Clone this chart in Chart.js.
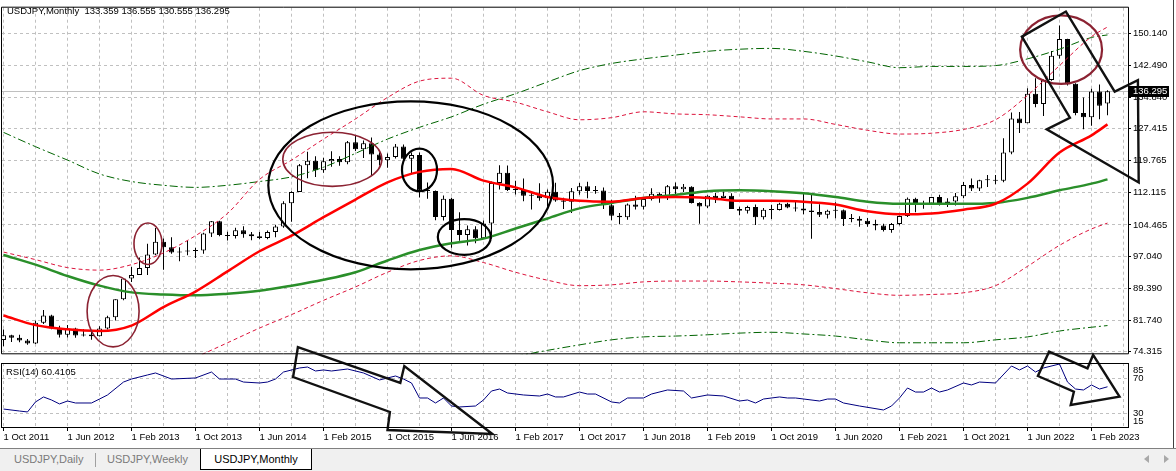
<!DOCTYPE html>
<html>
<head>
<meta charset="utf-8">
<script src="https://cdn.jsdelivr.net/npm/chart.js@4.4.0/dist/chart.umd.min.js"></script>
<style>
  html, body { margin:0; padding:0; background:#fff; }
  body { width:1176px; height:471px; position:relative; overflow:hidden; font-family:"Liberation Sans", Arial, sans-serif; }
  #mainCanvas { position:absolute; left:0; top:0; width:1176px; height:362px; }
  #rsiCanvas { position:absolute; left:0; top:340px; width:1176px; height:110px; }
  #winEdge { position:absolute; left:1173px; top:0; width:1px; height:448px; background:#404040; }
  #tabs { position:absolute; left:0; top:448px; width:1176px; height:23px; background:#f0f0f0; border-top:1px solid #808080; box-sizing:border-box; font-size:11px; }
  .tab { position:absolute; top:0; height:21px; line-height:20px; color:#7a7a7a; white-space:nowrap; }
  .tab.active { background:#fff; color:#000; border:1px solid #000; border-top:none; box-sizing:border-box; text-align:center; }
  .sep { position:absolute; top:4px; width:1px; height:14px; background:#a0a0a0; }
  .arr { position:absolute; top:6px; width:0; height:0; border-top:4px solid transparent; border-bottom:4px solid transparent; }
</style>
</head>
<body>
<canvas id="mainCanvas" width="1176" height="362"></canvas>
<canvas id="rsiCanvas" width="1176" height="110"></canvas>
<div id="winEdge"></div>
<div id="tabs">
  <div class="tab" style="left:14px">USDJPY,Daily</div>
  <div class="sep" style="left:95px"></div>
  <div class="tab" style="left:107px">USDJPY,Weekly</div>
  <div class="tab active" style="left:200px;width:112px">USDJPY,Monthly</div>
  <div class="arr" style="left:1144px;border-right:5px solid #a8a8a8"></div>
  <div class="arr" style="left:1164px;border-left:5px solid #a8a8a8"></div>
</div>
<script>
// ================= DATA (monthly USDJPY, Oct 2011 .. Apr 2023) =================
const symbolTitle = 'USDJPY,Monthly';
const opens = [
  77.05, 78.18, 77.62,
  76.92, 76.23, 81.19, 82.87, 79.82, 78.33, 79.79, 78.11, 78.36, 77.94, 79.77, 82.49,
  86.74, 91.69, 92.56, 94.21, 97.42, 100.47, 99.14, 97.87, 98.16, 98.28, 98.37, 102.44,
  105.31, 102.04, 101.80, 103.21, 102.23, 101.78, 101.32, 102.80, 104.07, 109.64, 112.32, 118.66,
  119.77, 117.48, 119.63, 120.13, 119.38, 124.13, 122.50, 123.93, 121.21, 119.86, 120.63, 123.11,
  120.21, 121.13, 112.67, 112.54, 106.33, 110.72, 103.26, 102.05, 103.43, 101.31, 104.80, 114.46,
  116.88, 112.78, 112.76, 111.38, 111.50, 110.82, 112.39, 110.27, 109.99, 112.51, 113.65, 112.53,
  112.67, 109.17, 106.67, 106.26, 109.34, 108.81, 110.66, 111.86, 111.03, 113.70, 112.93, 113.57,
  109.67, 108.86, 111.38, 110.85, 111.42, 108.28, 107.85, 108.74, 106.28, 108.07, 108.03, 109.49,
  108.61, 108.35, 107.89, 107.54, 106.88, 107.83, 107.93, 105.88, 105.92, 105.48, 104.66, 104.31,
  103.24, 104.68, 106.60, 110.72, 109.30, 109.58, 111.10, 109.71, 110.02, 111.28, 113.95, 113.16,
  115.08, 115.11, 114.99, 121.69, 129.81, 128.69, 135.72, 133.26, 138.95, 144.74, 148.71, 138.05,
  131.11, 130.09, 136.21, 133.359
];
const highs = [
  79.55, 78.29, 78.29,
  77.32, 81.67, 84.18, 83.05, 80.43, 80.63, 80.00, 79.65, 78.94, 80.36, 82.84, 86.79,
  91.80, 94.46, 96.71, 99.95, 103.74, 101.23, 101.54, 99.15, 100.62, 99.01, 102.57, 105.41,
  105.45, 102.84, 103.77, 104.13, 102.77, 102.80, 103.15, 104.49, 110.09, 112.49, 118.98, 121.86,
  120.82, 120.48, 122.03, 120.84, 124.45, 125.86, 124.58, 125.28, 121.74, 121.49, 123.76, 123.60,
  121.69, 121.69, 114.56, 112.67, 111.44, 110.92, 107.49, 104.32, 104.16, 105.53, 114.83, 118.66,
  118.61, 114.96, 115.51, 112.20, 114.37, 112.89, 114.49, 110.95, 113.26, 114.44, 114.72, 113.75,
  113.38, 110.48, 107.29, 109.57, 111.40, 110.90, 113.17, 112.16, 113.98, 114.55, 114.21, 113.70,
  109.89, 111.50, 112.14, 112.40, 112.02, 108.80, 109.03, 109.31, 108.47, 109.28, 109.73, 109.72,
  110.29, 112.23, 111.71, 109.38, 108.08, 109.85, 108.16, 107.05, 106.55, 106.11, 105.68, 104.75,
  104.94, 106.69, 110.97, 110.96, 110.20, 111.11, 111.66, 110.80, 112.08, 114.70, 115.52, 115.21,
  116.35, 116.34, 125.10, 131.26, 131.35, 137.00, 139.39, 139.08, 145.90, 151.94, 148.82, 138.18,
  134.78, 136.91, 137.91, 136.555
];
const lows = [
  75.56, 76.57, 76.55,
  75.94, 76.11, 80.87, 79.62, 77.65, 77.65, 77.61, 77.90, 77.12, 77.88, 79.56, 81.69,
  86.54, 90.86, 92.56, 92.56, 97.22, 93.79, 97.62, 95.81, 97.23, 96.56, 97.62, 101.60,
  101.77, 100.76, 101.20, 101.43, 100.82, 101.07, 101.07, 101.51, 103.77, 105.21, 112.30, 115.57,
  115.86, 116.87, 118.33, 118.53, 118.88, 122.04, 120.42, 116.16, 118.60, 118.06, 120.25, 119.97,
  116.50, 110.98, 110.67, 105.55, 105.53, 99.00, 100.68, 99.55, 100.09, 101.20, 101.19, 112.89,
  112.52, 111.69, 110.11, 108.13, 110.24, 108.82, 110.00, 108.27, 107.32, 111.65, 110.84, 111.88,
  108.28, 105.55, 104.62, 105.67, 108.11, 108.12, 110.27, 109.77, 110.38, 111.38, 112.30, 109.56,
  104.74, 108.50, 109.70, 110.81, 108.28, 106.78, 107.21, 104.45, 105.74, 105.88, 107.89, 108.43,
  107.65, 107.00, 101.18, 106.36, 105.99, 106.07, 104.19, 105.11, 104.00, 104.03, 103.18, 102.88,
  102.59, 104.41, 106.36, 107.48, 108.34, 109.19, 109.06, 108.72, 109.11, 110.82, 112.53, 112.53,
  113.47, 114.16, 114.65, 121.28, 126.36, 128.65, 132.51, 130.39, 138.80, 144.07, 137.67, 130.57,
  127.22, 128.08, 129.64, 130.555
];
const closes = [
  78.18, 77.62, 76.92,
  76.23, 81.19, 82.87, 79.82, 78.33, 79.79, 78.11, 78.36, 77.94, 79.77, 82.49, 86.74,
  91.69, 92.56, 94.21, 97.42, 100.47, 99.14, 97.87, 98.16, 98.28, 98.37, 102.44, 105.31,
  102.04, 101.80, 103.21, 102.23, 101.78, 101.32, 102.80, 104.07, 109.64, 112.32, 118.66, 119.77,
  117.48, 119.63, 120.13, 119.38, 124.13, 122.50, 123.93, 121.21, 119.86, 120.63, 123.11, 120.21,
  121.13, 112.67, 112.54, 106.33, 110.72, 103.26, 102.05, 103.43, 101.31, 104.80, 114.46, 116.88,
  112.78, 112.76, 111.38, 111.50, 110.82, 112.39, 110.27, 109.99, 112.51, 113.65, 112.53, 112.67,
  109.17, 106.67, 106.26, 109.34, 108.81, 110.66, 111.86, 111.03, 113.70, 112.93, 113.57, 109.67,
  108.86, 111.38, 110.85, 111.42, 108.28, 107.85, 108.74, 106.28, 108.07, 108.03, 109.49, 108.61,
  108.35, 107.89, 107.54, 106.88, 107.83, 107.93, 105.88, 105.92, 105.48, 104.66, 104.31, 103.24,
  104.68, 106.60, 110.72, 109.30, 109.58, 111.10, 109.71, 110.02, 111.28, 113.95, 113.16, 115.08,
  115.11, 114.99, 121.69, 129.81, 128.69, 135.72, 133.26, 138.95, 144.74, 148.71, 138.05, 131.11,
  130.09, 136.21, 132.84, 136.295
];

// indicator readings, taken at every 4th bar (plus the last bar)
const indicatorBars = [0,4,8,12,16,20,24,28,32,36,40,44,48,52,56,60,64,68,72,76,80,84,88,92,96,100,104,108,112,116,120,124,128,132,136,138];
const redMA = [82.9,80.6,79.6,79.2,80.5,84.9,88.6,93.4,98.2,101.9,106.3,110.5,114.6,117.1,117.8,115.0,113.4,111.1,110.2,110.0,110.9,111.1,110.9,110.2,110.2,110.0,109.3,107.7,107.0,107.2,108.1,109.5,114.3,121.7,125.8,128.4];
const greenMA = [97.3,95.0,92.3,90.0,88.4,87.9,87.7,88.1,88.8,90.0,91.4,93.2,96.0,98.5,100.1,101.2,103.6,106.0,108.4,109.7,110.9,111.6,112.5,112.7,112.5,112.0,111.1,110.0,109.5,109.5,109.5,109.7,110.9,112.7,114.3,115.3];
const upperRedBand = [98.0,96.2,94.3,93.7,95.0,97.8,101.9,107.2,115.3,119.9,124.9,129.7,134.8,138.7,139.4,135.3,133.7,131.4,129.5,130.0,131.4,130.9,130.7,130.2,129.7,129.7,128.4,127.0,126.1,126.3,127.2,129.5,135.3,142.4,149.3,151.6];
const lowerRedBand = [null,null,null,null,null,null,72.9,76.4,79.9,83.1,86.5,89.7,93.2,96.0,97.1,95.5,93.2,91.3,90.0,90.2,90.9,91.1,91.1,90.9,90.6,90.2,89.3,88.3,87.7,87.9,88.3,90.0,94.6,99.6,103.5,104.9];
const upperGreenBand = [126.5,123.1,119.9,116.6,114.8,113.9,113.4,113.9,114.8,115.9,118.2,121.5,124.9,127.7,130.2,133.2,135.7,138.5,141.2,142.9,144.0,144.9,145.8,146.3,146.5,145.8,144.7,143.3,141.9,142.2,142.2,142.4,144.0,146.3,149.1,149.7];
const lowerGreenBand = [null,null,null,null,null,null,null,null,null,null,null,null,null,null,null,72.0,73.2,74.6,75.9,77.1,77.8,78.0,78.3,78.7,78.9,78.5,78.0,77.1,76.4,76.4,76.4,77.1,77.8,79.2,80.1,80.5];

const rsiBars = [0,2,3,4,5,6,7,8,9,11,12,13,15,16,18,19,21,24,26,27,29,30,32,33,34,35,37,38,39,40,41,43,45,47,49,50,51,52,53,54,55,56,57,59,60,61,62,63,65,67,68,69,70,72,73,74,76,77,78,80,81,83,85,86,88,90,92,93,94,95,97,98,99,102,103,104,105,107,110,111,112,113,114,115,116,117,118,120,121,122,124,126,127,128,129,130,132,133,134,135,136,137,138];
const rsiValues = [34.6,32.3,31.2,42.8,48.6,45.1,40.5,43.9,41.6,41.6,46.2,50.9,65.9,69.4,74.1,76.4,69.4,70.6,77.5,69.4,69.4,65.9,64.8,65.9,69.4,77.5,82.2,83.3,78.7,79.9,78.7,81.0,76.4,68.3,72.9,69.4,64.8,47.4,47.4,41.6,47.4,38.1,37.0,38.1,45.1,55.5,57.8,53.2,50.9,49.7,52.0,48.6,48.6,54.3,52.0,52.0,42.8,41.6,47.4,47.4,52.0,56.7,55.5,47.4,50.9,49.7,43.9,45.1,41.6,46.2,48.6,47.4,47.4,43.9,46.2,46.2,41.6,38.1,33.5,38.1,47.4,59.0,54.3,54.3,59.0,54.3,56.7,64.8,62.5,65.9,64.8,84.5,79.9,84.5,77.5,82.2,86.8,65.9,57.8,56.7,62.5,57.8,60.41];
const rsiTitle = 'RSI(14) 60.4105';

const priceTicks = [150.140, 142.490, 134.840, 127.415, 119.765, 112.115, 104.465, 97.040, 89.390, 81.740, 74.315];
const rsiLevels = [85, 70, 30, 15];
const rsiGridLevels = [70, 30];
const dateTickLabels = ['1 Oct 2011','1 Jun 2012','1 Feb 2013','1 Oct 2013','1 Jun 2014','1 Feb 2015','1 Oct 2015','1 Jun 2016','1 Feb 2017','1 Oct 2017','1 Jun 2018','1 Feb 2019','1 Oct 2019','1 Jun 2020','1 Feb 2021','1 Oct 2021','1 Jun 2022','1 Feb 2023'];

// hand-drawn annotations (bar index / price space)
const annotationEllipses = [
  {bar:13.7, price:83.93, rBars:3.25, rPrice:8.5, color:'#8b2232', width:1.6},
  {bar:18.06, price:99.98, rBars:1.75, rPrice:4.94, color:'#8b2232', width:1.6},
  {bar:41.1, price:120.09, rBars:6.19, rPrice:6.44, color:'#8b2232', width:1.6},
  {bar:50.9, price:113.89, rBars:17.8, rPrice:20.0, color:'#000000', width:2.2},
  {bar:52.0, price:117.56, rBars:2.19, rPrice:5.06, color:'#000000', width:2.2},
  {bar:57.6, price:101.59, rBars:3.31, rPrice:4.25, color:'#000000', width:2.2},
  {bar:132.2, price:146.19, rBars:5.12, rPrice:8.16, color:'#8b2232', width:2.2}
];
const priceArrow = [[127.3,149.29],[132.8,155.27],[138.9,136.19],[141.8,138.94],[141.9,114.58],[130.4,127.22],[133.3,129.98]];
const rsiArrows = [
  [[36.8,106.5],[49.6,64.8],[50.1,84.5],[61.1,5.65],[48.0,10.3],[48.3,31.2],[36.2,71.7]],
  [[130.7,101.1],[135.5,81.8],[136.2,97.3],[139.5,48.9],[133.4,39.3],[133.8,54.7],[129.3,72.9]]
];

// ================= CHART SETUP =================
const N = opens.length;
const FONT = '"Liberation Sans", Arial, sans-serif';
const GRID = '#c0c0c0';
Chart.defaults.font.family = FONT;
Chart.defaults.font.size = 9.5;
Chart.defaults.color = '#000';
Chart.defaults.animation = false;

const X_MIN = -0.1875, X_MAX = 140.5625;
const PRICE_MIN = 73.656, PRICE_MAX = 156.186;
const RSI_MIN = 13.77, RSI_MAX = 87.97;
const gridBars = [];
for (let v = 0; v <= X_MAX; v += 4) gridBars.push(v);

const pts = arr => indicatorBars.map((b, k) => ({x: b, y: arr[k]}));
const candleWicks = opens.map((o, i) => ({x: i, y: [lows[i], highs[i]]}));
const candleBodies = opens.map((o, i) => ({x: i, y: [o, closes[i]]}));
const bodyFill = opens.map((o, i) => closes[i] >= o ? '#ffffff' : '#000000');

function drawPoly(ctx, poly, xs, ys) {
  ctx.beginPath();
  poly.forEach(([b, v], k) => {
    const px = xs.getPixelForValue(b), py = ys.getPixelForValue(v);
    if (k === 0) ctx.moveTo(px, py); else ctx.lineTo(px, py);
  });
  ctx.closePath();
  ctx.stroke();
}

const mainDecor = {
  id: 'mainDecor',
  beforeDatasetsDraw(chart) {
    const {ctx, chartArea: a, scales: {y}} = chart;
    const py = Math.round(y.getPixelForValue(closes[N - 1])) + 0.5;
    ctx.save();
    ctx.strokeStyle = '#c0c0c0'; ctx.lineWidth = 1;
    ctx.beginPath(); ctx.moveTo(a.left, py); ctx.lineTo(a.right, py); ctx.stroke();
    ctx.restore();
  },
  afterDatasetsDraw(chart) {
    const {ctx, scales: {x, y}} = chart;
    ctx.save();
    for (const e of annotationEllipses) {
      const cx = x.getPixelForValue(e.bar), cy = y.getPixelForValue(e.price);
      const rx = Math.abs(x.getPixelForValue(e.bar + e.rBars) - cx);
      const ry = Math.abs(y.getPixelForValue(e.price + e.rPrice) - cy);
      ctx.beginPath(); ctx.ellipse(cx, cy, rx, ry, 0, 0, Math.PI * 2);
      ctx.strokeStyle = e.color; ctx.lineWidth = e.width; ctx.stroke();
    }
    ctx.strokeStyle = '#111'; ctx.lineWidth = 2.4; ctx.lineJoin = 'miter';
    drawPoly(ctx, priceArrow, x, y);
    ctx.restore();
  },
  afterDraw(chart) {
    const {ctx, chartArea: a, scales: {y}} = chart;
    ctx.save();
    ctx.strokeStyle = '#000'; ctx.lineWidth = 1;
    ctx.beginPath();
    ctx.moveTo(a.left - 0.5, a.top - 0.5); ctx.lineTo(a.right + 0.5, a.top - 0.5);
    ctx.moveTo(a.left - 0.5, a.top - 0.5); ctx.lineTo(a.left - 0.5, a.bottom - 0.5);
    ctx.moveTo(a.right + 0.5, a.top - 0.5); ctx.lineTo(a.right + 0.5, a.bottom - 0.5);
    ctx.moveTo(a.left - 0.5, a.bottom - 0.5); ctx.lineTo(a.right + 0.5, a.bottom - 0.5);
    ctx.stroke();
    // title
    ctx.fillStyle = '#000';
    ctx.font = '9.5px ' + FONT;
    ctx.textBaseline = 'alphabetic'; ctx.textAlign = 'left';
    const L = N - 1;
    const ohlc = [opens[L], highs[L], lows[L], closes[L]].map(v => v.toFixed(3)).join(' ');
    ctx.fillText(symbolTitle + '  ' + ohlc, 7, 14);
    // current price box
    const py = Math.round(y.getPixelForValue(closes[L]));
    ctx.fillStyle = '#000';
    ctx.fillRect(a.right + 1, py - 5, 40, 11);
    ctx.fillStyle = '#fff';
    ctx.textBaseline = 'middle';
    ctx.fillText(closes[L].toFixed(3), a.right + 5, py + 0.5);
    ctx.restore();
  }
};

const rsiDecor = {
  id: 'rsiDecor',
  afterDatasetsDraw(chart) {
    const {ctx, scales: {x, y}} = chart;
    ctx.save();
    ctx.strokeStyle = '#111'; ctx.lineWidth = 2.4; ctx.lineJoin = 'miter';
    for (const poly of rsiArrows) drawPoly(ctx, poly, x, y);
    ctx.restore();
  },
  afterDraw(chart) {
    const {ctx, chartArea: a, scales: {y}} = chart;
    ctx.save();
    ctx.strokeStyle = '#000'; ctx.lineWidth = 1;
    ctx.strokeRect(a.left - 0.5, a.top + 0.5, a.right - a.left + 1, a.bottom - a.top);
    ctx.fillStyle = '#000';
    ctx.font = '9.5px ' + FONT;
    ctx.textAlign = 'left'; ctx.textBaseline = 'alphabetic';
    ctx.fillText(rsiTitle, 6, a.top + 12);
    ctx.textBaseline = 'middle';
    for (const lv of rsiLevels) {
      let py = y.getPixelForValue(lv);
      py = Math.max(a.top + 7.5, Math.min(a.bottom - 6, py));
      ctx.fillText(String(lv), a.right + 5, py);
    }
    ctx.restore();
  }
};

const lineDs = (arr, color, width, dash, order) => ({
  type: 'line', data: pts(arr), borderColor: color, borderWidth: width, borderDash: dash,
  pointRadius: 0, cubicInterpolationMode: 'monotone', fill: false, order
});

new Chart(document.getElementById('mainCanvas'), {
  type: 'bar',
  data: {
    datasets: [
      lineDs(redMA, '#ff0000', 2.5, [], 0),
      lineDs(greenMA, '#2a8f2a', 2.5, [], 1),
      lineDs(upperRedBand, '#dc143c', 1, [4, 3], 2),
      lineDs(lowerRedBand, '#dc143c', 1, [4, 3], 3),
      lineDs(upperGreenBand, '#006400', 1, [8, 3, 2, 3], 4),
      lineDs(lowerGreenBand, '#006400', 1, [8, 3, 2, 3], 5),
      {type: 'bar', data: candleBodies, backgroundColor: bodyFill, borderColor: '#000', borderWidth: 1,
       borderSkipped: false, barThickness: 5, minBarLength: 1, grouped: false, inflateAmount: 0, order: 10},
      {type: 'bar', data: candleWicks, backgroundColor: '#000', borderWidth: 0, barThickness: 1,
       grouped: false, inflateAmount: 0, order: 11}
    ]
  },
  options: {
    responsive: false, animation: false, events: [],
    layout: {padding: {left: 2, top: 2, right: 0, bottom: 1}},
    plugins: {legend: {display: false}, tooltip: {enabled: false}, title: {display: false}},
    scales: {
      x: {
        type: 'linear', min: X_MIN, max: X_MAX, offset: false,
        afterBuildTicks: s => { s.ticks = gridBars.map(v => ({value: v})); },
        grid: {color: GRID, lineWidth: 1, offset: false, drawTicks: false, borderDash: [3, 3]},
        border: {display: false, dash: [3, 3]},
        ticks: {display: false}
      },
      y: {
        type: 'linear', position: 'right', min: PRICE_MIN, max: PRICE_MAX, beginAtZero: false,
        afterBuildTicks: s => { s.ticks = priceTicks.map(v => ({value: v})); },
        afterFit: s => { s.width = 48; },
        grid: {color: GRID, lineWidth: 1, drawTicks: true, tickLength: 3, tickColor: '#000', tickWidth: 1, tickBorderDash: [], borderDash: [3, 3]},
        border: {display: false, dash: [3, 3]},
        ticks: {autoSkip: false, padding: 2, color: '#000', callback: v => Number(v).toFixed(3)}
      }
    }
  },
  plugins: [mainDecor]
});

new Chart(document.getElementById('rsiCanvas'), {
  type: 'line',
  data: {
    datasets: [{
      data: rsiBars.map((b, k) => ({x: b, y: rsiValues[k]})),
      borderColor: '#000080', borderWidth: 1, pointRadius: 0, tension: 0, fill: false
    }]
  },
  options: {
    responsive: false, animation: false, events: [],
    layout: {padding: {left: 2, top: 23, right: 0, bottom: 0}},
    plugins: {legend: {display: false}, tooltip: {enabled: false}},
    scales: {
      x: {
        type: 'linear', min: X_MIN, max: X_MAX, offset: false,
        afterBuildTicks: s => { s.ticks = gridBars.map(v => ({value: v})); },
        afterFit: s => { s.height = 23; },
        grid: {color: GRID, lineWidth: 1, offset: false, drawTicks: true, tickLength: 4, tickWidth: 1,
               tickColor: c => (c.tick && c.tick.value % 8 === 0 && dateTickLabels[c.tick.value / 8]) ? '#000' : 'rgba(0,0,0,0)',
               tickBorderDash: [], borderDash: [3, 3]},
        border: {display: false, dash: [3, 3]},
        ticks: {autoSkip: false, maxRotation: 0, minRotation: 0, align: 'start', padding: 1, color: '#000',
                callback: v => (v % 8 === 0 && dateTickLabels[v / 8]) ? dateTickLabels[v / 8] : ''}
      },
      y: {
        type: 'linear', position: 'right', min: RSI_MIN, max: RSI_MAX,
        afterBuildTicks: s => { s.ticks = rsiGridLevels.map(v => ({value: v})); },
        afterFit: s => { s.width = 48; },
        grid: {color: GRID, lineWidth: 1, drawTicks: false, borderDash: [3, 3]},
        border: {display: false, dash: [3, 3]},
        ticks: {display: false}
      }
    }
  },
  plugins: [rsiDecor]
});
</script>
</body>
</html>
